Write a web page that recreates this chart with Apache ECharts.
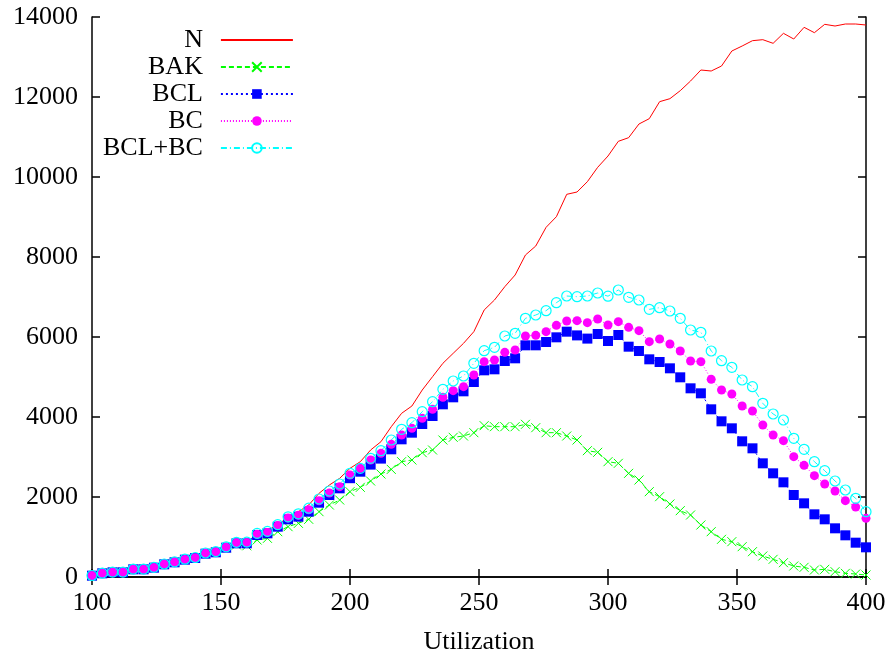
<!DOCTYPE html>
<html>
<head>
<meta charset="utf-8">
<script src="https://cdn.jsdelivr.net/npm/echarts@6/dist/echarts.min.js"></script>
<style>
  html, body { margin: 0; padding: 0; background: #fff; }
  #chart { width: 894px; height: 663px; }
</style>
</head>
<body>
<div id="chart"></div>
<script>
// utilization values (x)
var utilization = [100, 104, 108, 112, 116, 120, 124, 128, 132, 136, 140, 144, 148, 152, 156, 160, 164, 168, 172, 176,
  180, 184, 188, 192, 196, 200, 204, 208, 212, 216, 220, 224, 228, 232, 236, 240, 244, 248, 252, 256,
  260, 264, 268, 272, 276, 280, 284, 288, 292, 296, 300, 304, 308, 312, 316, 320, 324, 328, 332, 336,
  340, 344, 348, 352, 356, 360, 364, 368, 372, 376, 380, 384, 388, 392, 396, 400];

var seriesNames = ["N", "BAK", "BCL", "BC", "BCL+BC"];

var valN = [40, 95, 120, 125, 195, 200, 240, 320, 372, 440, 480, 590, 625, 740, 850, 860, 1080, 1160, 1310, 1490,
  1633, 1800, 2092, 2300, 2467, 2717, 2883, 3175, 3383, 3758, 4092, 4275, 4675, 5008, 5342, 5592, 5842, 6133, 6675, 6925,
  7258, 7550, 8050, 8275, 8742, 9008, 9567, 9625, 9883, 10242, 10525, 10892, 10983, 11325, 11458, 11883, 11958, 12158, 12400, 12675,
  12650, 12775, 13150, 13275, 13408, 13433, 13342, 13592, 13450, 13742, 13608, 13817, 13775, 13825, 13825, 13800];

var valBAK = [33, 92, 117, 117, 192, 192, 233, 317, 367, 433, 475, 583, 617, 733, 800, 780, 925, 967, 1133, 1258,
  1342, 1442, 1633, 1800, 1925, 2133, 2242, 2400, 2575, 2690, 2883, 2925, 3108, 3175, 3425, 3492, 3525, 3608, 3783, 3758,
  3758, 3758, 3817, 3733, 3608, 3608, 3525, 3425, 3158, 3117, 2883, 2842, 2592, 2425, 2133, 2008, 1825, 1658, 1550, 1300,
  1133, 942, 883, 758, 633, 525, 442, 358, 275, 242, 175, 192, 133, 92, 75, 50];

var valBCL = [33, 92, 117, 117, 192, 192, 233, 317, 367, 433, 475, 583, 617, 733, 842, 842, 1050, 1092, 1258, 1442,
  1508, 1633, 1858, 2050, 2217, 2470, 2633, 2810, 2960, 3192, 3442, 3608, 3825, 4025, 4317, 4492, 4642, 4875, 5167, 5192,
  5400, 5467, 5792, 5792, 5875, 5992, 6133, 6040, 5960, 6075, 5900, 6050, 5758, 5650, 5442, 5375, 5217, 4992, 4717, 4592,
  4192, 3892, 3717, 3392, 3217, 2842, 2592, 2367, 2050, 1842, 1567, 1442, 1217, 1042, 858, 742];

var valBC = [35, 95, 120, 120, 195, 195, 238, 322, 372, 440, 482, 592, 628, 745, 855, 858, 1070, 1115, 1285, 1475,
  1545, 1680, 1905, 2100, 2258, 2550, 2717, 2925, 3092, 3317, 3550, 3717, 3967, 4192, 4492, 4658, 4758, 5050, 5383, 5425,
  5617, 5675, 6025, 6042, 6133, 6292, 6400, 6408, 6358, 6450, 6300, 6383, 6242, 6158, 5883, 5950, 5825, 5650, 5400, 5383,
  4942, 4675, 4575, 4275, 4150, 3800, 3550, 3408, 3008, 2792, 2533, 2325, 2150, 1908, 1750, 1467];

var valBCLBC = [38, 97, 122, 122, 198, 198, 242, 325, 378, 445, 488, 600, 636, 755, 868, 872, 1090, 1140, 1310, 1505,
  1580, 1720, 1950, 2150, 2325, 2592, 2717, 2967, 3158, 3425, 3692, 3858, 4133, 4383, 4692, 4900, 5025, 5342, 5658, 5742,
  6025, 6092, 6467, 6550, 6658, 6858, 7025, 7008, 7025, 7100, 7020, 7175, 6992, 6925, 6692, 6733, 6650, 6467, 6175, 6117,
  5650, 5408, 5242, 4925, 4758, 4342, 4075, 3925, 3467, 3192, 2883, 2658, 2400, 2175, 1967, 1633];

var FONT = "'Liberation Serif', 'DejaVu Serif', serif";
var CROSS = "path://M0,0L10,10M10,0L0,10";

function pairs(vals) {
  return utilization.map(function (u, i) { return [u, vals[i]]; });
}

var chart = echarts.init(document.getElementById("chart"), null, { renderer: "canvas" });

var axisLineStyle = { lineStyle: { color: "#000", width: 1.5 } };
var tickStyle = { show: true, inside: true, length: 8, lineStyle: { color: "#000", width: 1.5 } };
var plainNum = function (v) { return String(v); };

var option = {
  animation: false,
  backgroundColor: "#fff",
  grid: { left: 92, right: 28, top: 17, bottom: 86, containLabel: false },
  legend: {
    orient: "vertical",
    align: "right",
    left: 103,
    top: 27,
    padding: 0,
    itemGap: 1,
    itemWidth: 72,
    itemHeight: 12,
    textStyle: { fontFamily: FONT, fontSize: 26, color: "#000", padding: [0, 13, 0, 0] },
    data: [
      { name: "N", itemStyle: { opacity: 0 } },
      "BAK", "BCL", "BC", "BCL+BC"
    ]
  },
  xAxis: [
    {
      type: "value",
      min: 100,
      max: 400,
      interval: 50,
      name: "Utilization",
      nameLocation: "middle",
      nameGap: 52,
      nameTextStyle: { fontFamily: FONT, fontSize: 26, color: "#000" },
      axisLine: axisLineStyle,
      axisTick: tickStyle,
      axisLabel: { fontFamily: FONT, fontSize: 26, color: "#000", margin: 13, formatter: plainNum },
      splitLine: { show: false }
    },
    {
      type: "value",
      position: "top",
      min: 100,
      max: 400,
      interval: 50,
      axisLine: axisLineStyle,
      axisTick: tickStyle,
      axisLabel: { show: false },
      splitLine: { show: false }
    }
  ],
  yAxis: [
    {
      type: "value",
      min: 0,
      max: 14000,
      interval: 2000,
      axisLine: { show: true, lineStyle: { color: "#000", width: 1.5 } },
      axisTick: tickStyle,
      axisLabel: { fontFamily: FONT, fontSize: 26, color: "#000", margin: 14, formatter: plainNum },
      splitLine: { show: false }
    },
    {
      type: "value",
      position: "right",
      min: 0,
      max: 14000,
      interval: 2000,
      axisLine: { show: true, lineStyle: { color: "#000", width: 1.5 } },
      axisTick: tickStyle,
      axisLabel: { show: false },
      splitLine: { show: false }
    }
  ],
  series: [
    {
      name: "N",
      type: "line",
      data: pairs(valN),
      showSymbol: false,
      symbol: "none",
      color: "#ff0000",
      lineStyle: { color: "#ff0000", width: 1 }
    },
    {
      name: "BAK",
      type: "line",
      data: pairs(valBAK),
      symbol: CROSS,
      symbolSize: 9,
      color: "#00ff00",
      itemStyle: { color: "#00ff00", borderColor: "#00ff00", borderWidth: 1 },
      lineStyle: { color: "#00ff00", width: 1, type: [5, 3] }
    },
    {
      name: "BCL",
      type: "line",
      data: pairs(valBCL),
      symbol: "rect",
      symbolSize: 10,
      color: "#0000ff",
      itemStyle: { color: "#0000ff" },
      lineStyle: { color: "#0000ff", width: 1, type: [2, 3] }
    },
    {
      name: "BC",
      type: "line",
      data: pairs(valBC),
      symbol: "circle",
      symbolSize: 9,
      color: "#ff00ff",
      itemStyle: { color: "#ff00ff" },
      lineStyle: { color: "#ff00ff", width: 1, type: [1, 2] }
    },
    {
      name: "BCL+BC",
      type: "line",
      data: pairs(valBCLBC),
      symbol: "circle",
      symbolSize: 10,
      color: "#00ffff",
      itemStyle: { color: "rgba(0,0,0,0)", borderColor: "#00ffff", borderWidth: 1.2 },
      lineStyle: { color: "#00ffff", width: 1, type: [6, 3, 1, 3] }
    }
  ]
};

chart.setOption(option);
</script>
</body>
</html>
